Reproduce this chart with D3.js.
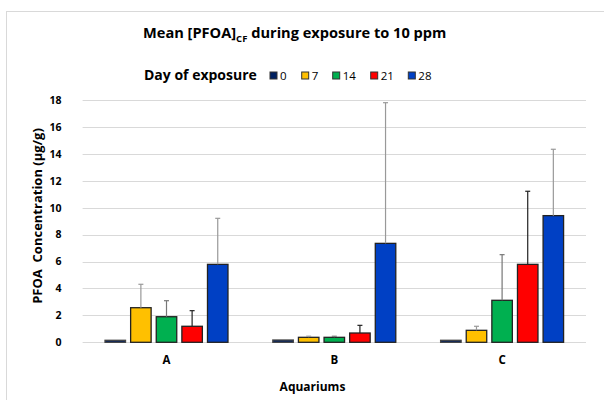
<!DOCTYPE html>
<html>
<head>
<meta charset="utf-8">
<script src="https://cdn.jsdelivr.net/npm/d3@7"></script>
<style>
  body { margin: 0; background: #fff; }
  svg { font-family: "Open Sans", sans-serif; }
  .grid line { stroke: #d9d9d9; stroke-width: 1; }
  .axis text { font-weight: bold; fill: #000; font-family: "Open Sans", sans-serif; }
</style>
</head>
<body>
<svg id="chart"></svg>
<script>
// aquarium groups and exposure days
const aquariums = ["A", "B", "C"];
const days = ["0", "7", "14", "21", "28"];

// mean concentration per day (rows) for aquarium A, B, C
const mean0  = [0.15, 0.17, 0.15];
const mean7  = [2.57, 0.37, 0.89];
const mean14 = [1.90, 0.37, 3.12];
const mean21 = [1.19, 0.69, 5.79];
const mean28 = [5.79, 7.35, 9.41];

// top of the error bar (mean + sd)
const top0  = [0.15, 0.17, 0.15];
const top7  = [4.31, 0.45, 1.19];
const top14 = [3.09, 0.45, 6.51];
const top21 = [2.35, 1.26, 11.22];
const top28 = [9.21, 17.8, 14.34];

const yTicks = [0, 2, 4, 6, 8, 10, 12, 14, 16, 18];

const colors = ["#002060", "#FFC000", "#00B050", "#FF0000", "#0040C4"];
const errColors = ["#999", "#999", "#777", "#222", "#999"];

const means = [mean0, mean7, mean14, mean21, mean28];
const tops = [top0, top7, top14, top21, top28];

const W = 604, H = 400;
const margin = {top: 100, right: 18, bottom: 58, left: 82.6};

const svg = d3.select("#chart").attr("width", W).attr("height", H);

// outer chart border (runs past the right/bottom edge)
svg.append("rect")
    .attr("x", 6.5).attr("y", 11.5)
    .attr("width", 640).attr("height", 420)
    .attr("fill", "none")
    .attr("stroke", "#d9d9d9");

const x0 = d3.scaleBand()
    .domain(aquariums)
    .range([margin.left, W - margin.right])
    .paddingInner(0).paddingOuter(0);

const x1 = d3.scaleBand()
    .domain(days)
    .range([0, x0.bandwidth()])
    .paddingInner(0.2)
    .paddingOuter(0.875);

const y = d3.scaleLinear()
    .domain([0, 18])
    .range([H - margin.bottom + 0.3, margin.top]);

// gridlines
svg.append("g")
    .attr("class", "grid")
    .selectAll("line")
    .data(yTicks)
    .join("line")
    .attr("x1", margin.left).attr("x2", W - margin.right)
    .attr("y1", d => Math.round(y(d)) + 0.5)
    .attr("y2", d => Math.round(y(d)) + 0.5);

// y axis labels
const yAxis = d3.axisLeft(y).tickValues(yTicks).tickSize(0).tickPadding(21);
svg.append("g")
    .attr("class", "axis")
    .attr("transform", `translate(${margin.left},0)`)
    .call(yAxis)
    .call(g => g.select(".domain").remove())
    .selectAll("text").attr("font-size", 10.5);

// x axis labels
const xAxis = d3.axisBottom(x0).tickSize(0).tickPadding(14);
svg.append("g")
    .attr("class", "axis")
    .attr("transform", `translate(0,${y(0)})`)
    .call(xAxis)
    .call(g => g.select(".domain").remove())
    .selectAll("text").attr("font-size", 11.5);

// bars
const rows = [];
days.forEach((d, i) => {
  aquariums.forEach((a, j) => {
    rows.push({day: d, aq: a, i: i, v: means[i][j], t: tops[i][j]});
  });
});

const marks = svg.append("g");
marks.selectAll("rect")
    .data(rows)
    .join("rect")
    .attr("x", d => x0(d.aq) + x1(d.day))
    .attr("width", x1.bandwidth())
    .attr("y", d => y(d.v))
    .attr("height", d => y(0) - y(d.v))
    .attr("fill", d => colors[d.i])
    .attr("stroke", d => d.i === 0 ? "#444" : "#222")
    .attr("stroke-width", 1.3);

// error bars
const errs = rows.filter(d => d.t > d.v + 0.02);
const eg = svg.append("g");
eg.selectAll("line.v")
    .data(errs)
    .join("line")
    .attr("class", "v")
    .attr("x1", d => x0(d.aq) + x1(d.day) + x1.bandwidth() / 2)
    .attr("x2", d => x0(d.aq) + x1(d.day) + x1.bandwidth() / 2)
    .attr("y1", d => y(d.v))
    .attr("y2", d => y(d.t))
    .attr("stroke", d => errColors[d.i])
    .attr("stroke-width", 1.2);
eg.selectAll("line.c")
    .data(errs)
    .join("line")
    .attr("class", "c")
    .attr("x1", d => x0(d.aq) + x1(d.day) + x1.bandwidth() / 2 - 2.5)
    .attr("x2", d => x0(d.aq) + x1(d.day) + x1.bandwidth() / 2 + 2.5)
    .attr("y1", d => y(d.t))
    .attr("y2", d => y(d.t))
    .attr("stroke", d => errColors[d.i])
    .attr("stroke-width", 1.2);

// title
const title = svg.append("text")
    .attr("x", 143).attr("y", 37.5)
    .attr("font-size", 14.6).attr("font-weight", "bold");
title.append("tspan").text("Mean [PFOA]");
title.append("tspan").attr("font-size", 9.5).attr("dy", 4).text("CF");
title.append("tspan").attr("dy", -4).text(" during exposure to 10 ppm");

// legend
svg.append("text")
    .attr("x", 144).attr("y", 80)
    .attr("font-size", 14).attr("font-weight", "bold")
    .text("Day of exposure");

const legX = [270, 301.7, 332.7, 370.7, 408.3];
const leg = svg.append("g").selectAll("g")
    .data(days)
    .join("g")
    .attr("transform", (d, i) => `translate(${legX[i]},72)`);
leg.append("rect")
    .attr("width", 7).attr("height", 7)
    .attr("fill", (d, i) => colors[i])
    .attr("stroke", "#333").attr("stroke-width", 1);
leg.append("text")
    .attr("x", 10).attr("y", 8)
    .attr("font-size", 11.5)
    .text(d => d);

// axis titles
svg.append("text")
    .attr("transform", `translate(42,216) rotate(-90)`)
    .attr("text-anchor", "middle")
    .attr("font-size", 13).attr("font-weight", "bold")
    .attr("xml:space", "preserve")
    .text("PFOA  Concentration (µg/g)");

svg.append("text")
    .attr("x", 312.5).attr("y", 390.5)
    .attr("text-anchor", "middle")
    .attr("font-size", 12).attr("font-weight", "bold")
    .text("Aquariums");
</script>
</body>
</html>
